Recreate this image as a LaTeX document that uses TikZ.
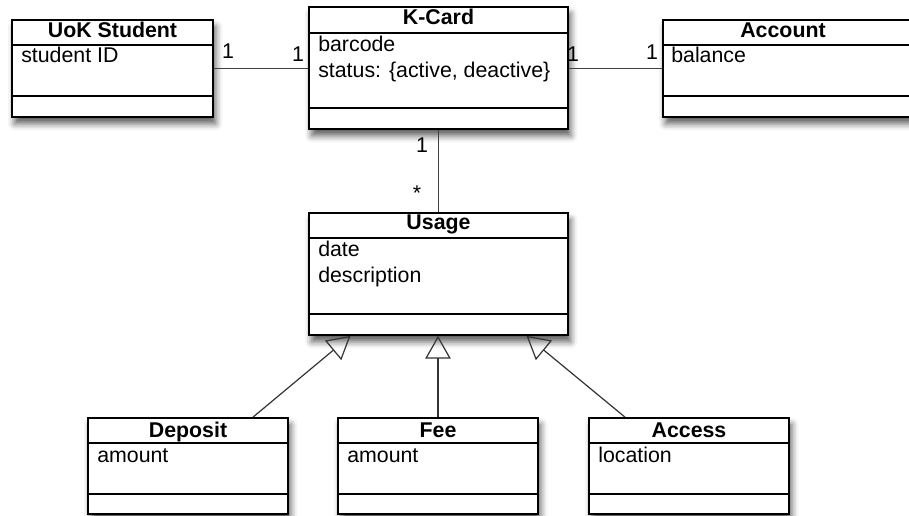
\documentclass[tikz,border=0pt]{standalone}
\usepackage{fontspec}
\setmainfont{Liberation Sans}
\usetikzlibrary{fit,arrows.meta,shadows.blur}

\tikzset{
  classbox/.style={draw=black, line width=1.3pt, fill=white, inner sep=0pt,
    blur shadow={shadow xshift=2pt, shadow yshift=-5pt, shadow blur radius=5pt, shadow opacity=65}},
  classtitle/.style={font=\fontsize{16}{19}\selectfont\bfseries, anchor=base, inner sep=0pt},
  attr/.style={font=\fontsize{16}{19}\selectfont, anchor=base west, inner sep=0pt},
  mult/.style={font=\fontsize{16}{19}\selectfont, inner sep=0pt},
  divider/.style={line width=1.1pt},
  assoc/.style={line width=0.9pt, draw=black!75},
  inherit/.style={line width=0.9pt, draw=black!80, -{Triangle[open, length=17pt, width=19pt]}},
}

\begin{document}
\begin{tikzpicture}[x=0.75pt,y=0.75pt,yscale=-1,xscale=1]
    \useasboundingbox (0,0) rectangle (909,516);

    % UoK Student
    \coordinate (uok-nw) at (12,20); \coordinate (uok-se) at (213,117);
    \node[classbox, fit=(uok-nw)(uok-se)] (uok) {};
    \draw[divider] (uok.west |- 0,45) -- (uok.east |- 0,45);
    \draw[divider] (uok.west |- 0,96) -- (uok.east |- 0,96);
    \node[classtitle] (uok-t) at (uok.north |- 0,38) {UoK Student};
    \node[attr] (uok-a1) at (21,63) {student ID};

    % K-Card
    \coordinate (kcard-nw) at (309,7); \coordinate (kcard-se) at (568,129);
    \node[classbox, fit=(kcard-nw)(kcard-se)] (kcard) {};
    \draw[divider] (kcard.west |- 0,33) -- (kcard.east |- 0,33);
    \draw[divider] (kcard.west |- 0,108) -- (kcard.east |- 0,108);
    \node[classtitle] (kcard-t) at (kcard.north |- 0,25) {K-Card};
    \node[attr] (kcard-a1) at (318,52) {barcode};
    \node[attr] (kcard-a2) at (318,78) {status: \{active, deactive\}};

    % Account
    \coordinate (account-nw) at (663,20); \coordinate (account-se) at (911,117);
    \node[classbox, fit=(account-nw)(account-se)] (account) {};
    \draw[divider] (account.west |- 0,45) -- (account.east |- 0,45);
    \draw[divider] (account.west |- 0,96) -- (account.east |- 0,96);
    \node[classtitle] (account-t) at (783,38) {Account};
    \node[attr] (account-a1) at (671,63) {balance};

    % Usage
    \coordinate (usage-nw) at (309,213); \coordinate (usage-se) at (568,335);
    \node[classbox, fit=(usage-nw)(usage-se)] (usage) {};
    \draw[divider] (usage.west |- 0,238) -- (usage.east |- 0,238);
    \draw[divider] (usage.west |- 0,314) -- (usage.east |- 0,314);
    \node[classtitle] (usage-t) at (usage.north |- 0,230) {Usage};
    \node[attr] (usage-a1) at (318,257) {date};
    \node[attr] (usage-a2) at (318,282) {description};

    % Deposit, Fee, Access
    \coordinate (deposit-nw) at (88,418); \coordinate (deposit-se) at (288,514);
    \node[classbox, fit=(deposit-nw)(deposit-se)] (deposit) {};
    \draw[divider] (deposit.west |- 0,443) -- (deposit.east |- 0,443);
    \draw[divider] (deposit.west |- 0,494) -- (deposit.east |- 0,494);
    \node[classtitle] (deposit-t) at (deposit.north |- 0,437) {Deposit};
    \node[attr] (deposit-a1) at (97,462) {amount};

    \coordinate (fee-nw) at (338,418); \coordinate (fee-se) at (538,514);
    \node[classbox, fit=(fee-nw)(fee-se)] (fee) {};
    \draw[divider] (fee.west |- 0,443) -- (fee.east |- 0,443);
    \draw[divider] (fee.west |- 0,494) -- (fee.east |- 0,494);
    \node[classtitle] (fee-t) at (fee.north |- 0,437) {Fee};
    \node[attr] (fee-a1) at (347,462) {amount};

    \coordinate (access-nw) at (589,418); \coordinate (access-se) at (789,514);
    \node[classbox, fit=(access-nw)(access-se)] (access) {};
    \draw[divider] (access.west |- 0,443) -- (access.east |- 0,443);
    \draw[divider] (access.west |- 0,494) -- (access.east |- 0,494);
    \node[classtitle] (access-t) at (access.north |- 0,437) {Access};
    \node[attr] (access-a1) at (598,462) {location};

    % associations
    \draw[assoc] (uok.east) -- (uok.east -| kcard.west);
    \draw[assoc] (account.west -| kcard.east) -- (account.west);
    \draw[assoc] (kcard.south) -- (usage.north);
    \node[mult] (m-uok) at (228,51) {1};
    \node[mult] (m-kcard-l) at (298,54) {1};
    \node[mult] (m-kcard-r) at (573,54) {1};
    \node[mult] (m-account) at (652,52) {1};
    \node[mult] (m-kcard-b) at (422,145) {1};
    \node[mult] (m-usage) at (417,193) {*};

    % generalizations
    \draw[inherit] ([xshift=48.75pt]deposit.north) -- ([xshift=-66pt]usage.south);
    \draw[inherit] (fee.north) -- (fee.north |- usage.south);
    \draw[inherit] ([xshift=-48pt]access.north) -- ([xshift=66pt]usage.south);

\end{tikzpicture}
\end{document}
